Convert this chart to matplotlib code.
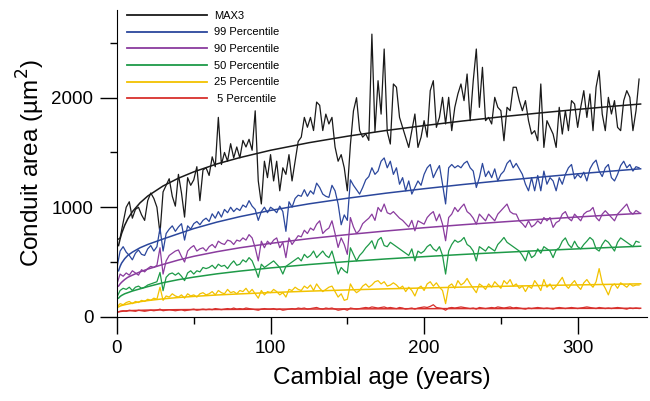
import numpy as np
import matplotlib
matplotlib.use("Agg")
import matplotlib.pyplot as plt

plt.rcParams['font.family'] = ['Liberation Sans', 'DejaVu Sans']

# ring series, one value every 2 years (years 0..340)
years = np.arange(0, 341, 2)

max3 = [700, 720, 860, 1000, 1050, 900, 980, 1000, 930, 880,
        1060, 1130, 1080, 1000, 760, 1140, 1200, 1260, 1100, 1010,
        1300, 1130, 910, 1270, 1200, 1250, 1370, 1060, 1340, 1360,
        1290, 1460, 1370, 1820, 1390, 1500, 1420, 1580, 1450, 1550,
        1450, 1610, 1550, 1620, 1520, 1880, 1240, 1030, 1420, 1270,
        1480, 1240, 1420, 1150, 1360, 1300, 1480, 1240, 1420, 1600,
        1640, 1820, 1730, 1820, 1700, 1960, 1930, 1700, 1850, 1760,
        1820, 1550, 1420, 1480, 1360, 1150, 1570, 1880, 2000, 1700,
        1640, 1670, 1610, 2580, 1690, 2155, 1850, 2444, 1690, 1577,
        2125, 2095, 1820, 1729, 1638, 1546, 1699, 1851, 1546, 1638,
        1790, 1640, 2064, 2155, 1729, 1820, 2003, 1760, 2003, 1699,
        1912, 2034, 2125, 1973, 2216, 1790, 2155, 2444, 1912, 2277,
        1790, 1820, 1760, 2003, 1912, 1881, 1607, 1912, 1881, 2095,
        2095, 1973, 1881, 1973, 1790, 1668, 1699, 1607, 2125, 1546,
        1790, 1729, 1668, 1546, 1912, 1668, 1881, 1699, 1973, 1942,
        1729, 1912, 2064, 1820, 2034, 1699, 2095, 2247, 1851, 1699,
        2003, 1851, 1973, 1729, 1699, 1973, 2064, 2003, 1699, 1881,
        2170]

p99 = [450, 600, 640, 590, 560, 520, 580, 610, 570, 560,
       620, 650, 600, 640, 810, 600, 760, 800, 830, 780,
       820, 850, 700, 830, 800, 850, 870, 840, 880, 900,
       870, 940, 900, 960, 910, 980, 950, 1000, 960, 990,
       970, 1020, 1000, 1060, 1010, 980, 880, 960, 1000, 950,
       1000, 980, 950, 1010, 960, 780, 1050, 1000, 1080, 1110,
       1100, 1160, 1100, 1150, 1120, 1220, 1180, 1120, 1100, 1090,
       1200, 1150, 1030, 840, 930, 880, 1250, 1200, 1160, 1120,
       1180, 1250, 1280, 1360, 1300, 1330, 1420, 1450, 1360, 1420,
       1300, 1360, 1210, 1270, 1150, 1240, 1120, 1180, 1240, 1200,
       1300, 1360, 1390, 1270, 1330, 1380, 1210, 1030, 1360, 1390,
       1360, 1380, 1360, 1400, 1420, 1360, 1330, 1180, 1270, 1400,
       1280, 1330, 1270, 1350, 1240, 1300, 1330, 1400, 1430, 1360,
       1400, 1350, 1300, 1210, 1150, 1270, 1150, 1290, 1150, 1330,
       1210, 1270, 1240, 1150, 1270, 1210, 1300, 1360, 1390, 1260,
       1300, 1270, 1320, 1240, 1350, 1400, 1430, 1330, 1280, 1360,
       1390, 1270, 1240, 1300, 1380, 1420, 1360, 1390, 1330, 1370,
       1360]

p90 = [300, 390, 370, 400, 380, 420, 400, 380, 430, 410,
       440, 460, 450, 470, 630, 390, 510, 560, 580, 600,
       610, 550, 500, 600, 630, 650, 600, 620, 630, 600,
       640, 660, 630, 690, 670, 660, 700, 690, 660, 700,
       690, 720, 700, 750, 720, 630, 510, 690, 630, 690,
       660, 700, 720, 630, 680, 540, 720, 660, 700, 740,
       730, 790, 760, 810, 790, 845, 876, 760, 790, 810,
       876, 760, 633, 720, 660, 570, 906, 820, 760, 790,
       850, 876, 900, 937, 880, 998, 960, 1029, 950, 937,
       960, 930, 900, 880, 850, 820, 880, 785, 876, 860,
       845, 906, 937, 960, 876, 937, 845, 694, 906, 937,
       998, 960, 998, 1029, 960, 937, 900, 845, 937, 906,
       876, 937, 906, 876, 937, 968, 998, 1029, 960, 940,
       937, 876, 850, 816, 876, 820, 840, 876, 850, 906,
       876, 906, 816, 860, 876, 937, 960, 900, 876, 937,
       906, 876, 937, 960, 968, 998, 906, 876, 937, 968,
       937, 906, 876, 937, 968, 998, 1029, 960, 937, 970,
       953]

p50 = [180, 240, 260, 250, 270, 240, 270, 280, 260, 270,
       290, 300, 310, 320, 405, 238, 360, 390, 400, 380,
       400, 370, 330, 400, 420, 390, 420, 410, 450, 440,
       450, 470, 440, 480, 460, 470, 440, 480, 510, 470,
       480, 520, 500, 540, 510, 440, 360, 480, 450, 470,
       490, 510, 480, 450, 390, 460, 480, 500, 520, 540,
       510, 570, 540, 560, 600, 540, 570, 600, 560, 540,
       600, 500, 390, 450, 420, 400, 630, 570, 510, 560,
       590, 630, 660, 694, 620, 700, 724, 650, 640, 680,
       660, 640, 620, 600, 580, 560, 620, 510, 600, 580,
       600, 640, 660, 620, 600, 640, 560, 390, 600, 660,
       700, 680, 694, 724, 660, 640, 600, 510, 640, 620,
       600, 640, 620, 600, 660, 690, 724, 680, 660, 640,
       620, 600, 560, 510, 600, 540, 560, 620, 580, 640,
       620, 600, 540, 610, 630, 690, 720, 660, 630, 690,
       640, 620, 660, 690, 724, 700, 620, 600, 660, 700,
       680, 640, 600, 680, 720, 700, 680, 660, 640, 690,
       680]

p25 = [90, 120, 110, 130, 140, 120, 140, 130, 150, 140,
       160, 150, 170, 160, 270, 150, 190, 180, 210, 190,
       180, 200, 170, 210, 190, 200, 180, 210, 220, 200,
       210, 230, 200, 240, 220, 210, 250, 220, 230, 210,
       240, 230, 260, 220, 250, 210, 170, 240, 200, 230,
       220, 250, 230, 200, 220, 180, 250, 240, 270, 250,
       240, 280, 260, 290, 240, 300, 260, 230, 250, 270,
       280, 230, 180, 210, 150, 160, 300, 250, 220, 240,
       280, 300, 270, 290, 320, 330, 300, 320, 280, 290,
       310, 290, 260, 280, 230, 270, 240, 190, 260, 280,
       240, 300, 320, 280, 310, 270, 240, 120, 280, 300,
       260, 330, 290, 310, 350, 300, 260, 220, 300, 280,
       250, 300, 270, 320, 290, 260, 330, 300, 340, 280,
       300, 260, 280, 230, 280, 260, 330, 290, 240, 340,
       270, 300, 250, 280, 320, 360, 290, 260, 300, 330,
       280, 250, 310, 340, 300, 270, 320, 440, 310, 260,
       200, 280, 300, 260, 310, 290, 270, 300, 280, 290,
       290]

p5 = [40, 50, 55, 50, 60, 55, 50, 60, 55, 50,
      55, 60, 55, 60, 70, 55, 60, 65, 60, 55,
      60, 65, 55, 60, 65, 70, 60, 65, 70, 65,
      70, 65, 75, 70, 65, 70, 75, 70, 80, 70,
      75, 70, 80, 75, 70, 65, 60, 70, 75, 70,
      70, 75, 65, 70, 60, 65, 70, 75, 70, 80,
      75, 80, 70, 75, 80, 85, 75, 70, 80, 75,
      80, 70, 60, 65, 70, 60, 80, 75, 70, 75,
      80, 85, 80, 90, 85, 80, 85, 90, 80, 85,
      80, 75, 85, 80, 70, 75, 80, 70, 80, 85,
      90, 85, 95, 110, 85, 80, 75, 60, 80, 85,
      80, 85, 90, 85, 80, 75, 80, 70, 85, 80,
      75, 80, 85, 80, 90, 85, 80, 85, 90, 80,
      85, 80, 75, 70, 80, 75, 80, 85, 80, 75,
      80, 75, 70, 80, 85, 80, 75, 80, 85, 80,
      75, 80, 85, 90, 85, 80, 75, 85, 80, 75,
      80, 75, 80, 85, 80, 75, 70, 80, 75, 80,
      75]

# fitted trend curves, read at a few ages
fit_years = [1, 2, 3, 5, 7, 10, 15, 20, 30, 40, 50, 65, 80, 100,
             125, 150, 175, 200, 225, 250, 275, 300, 325, 341]
fit_max3 = [650, 710, 760, 835, 893, 959, 1040, 1102, 1194, 1265, 1323, 1395,
            1453, 1520, 1589, 1648, 1700, 1745, 1787, 1825, 1860, 1893, 1924, 1942]
fit_p99 = [420, 460, 490, 530, 560, 590, 630, 660, 710, 758, 805, 864,
           914, 971, 1031, 1082, 1128, 1169, 1207, 1242, 1274, 1305, 1333, 1351]
fit_p90 = [280, 300, 315, 340, 360, 380, 410, 435, 478, 518, 552, 594,
           630, 670, 713, 750, 783, 813, 840, 865, 889, 911, 932, 944]
fit_p50 = [170, 185, 195, 210, 220, 235, 255, 275, 311, 339, 362, 392,
           417, 446, 477, 504, 528, 549, 569, 587, 604, 620, 635, 644]
fit_p25 = [90, 98, 103, 110, 116, 124, 138, 148, 164, 176, 186, 199,
           209, 221, 234, 245, 255, 263, 271, 278, 285, 291, 297, 301]
fit_p5 = [45, 48, 50, 53, 55, 57, 59, 61, 63, 65, 66, 67,
          68, 70, 71, 72, 73, 74, 75, 75, 76, 77, 77, 78]

labels = ['MAX3', '99 Percentile', '90 Percentile', '50 Percentile',
          '25 Percentile', ' 5 Percentile']
colors = ['#1a1a1a', '#2b479c', '#8a3c9e', '#1e9a48', '#f2c200', '#d8302c']
series = [max3, p99, p90, p50, p25, p5]
fits = [fit_max3, fit_p99, fit_p90, fit_p50, fit_p25, fit_p5]

fig = plt.figure(figsize=(6.5, 4.01), dpi=100)
ax = fig.add_axes([0.18, 0.21, 0.815, 0.765])

for s, f, c, lab in zip(series, fits, colors, labels):
    ax.plot(years, s, color=c, lw=0.9, label=lab)
    ax.plot(fit_years, f, color=c, lw=1.1)

ax.set_xlim(0, 345)
ax.set_ylim(0, 2800)
ax.set_xticks([0, 100, 200, 300])
ax.set_xticks([50, 150, 250], minor=True)
ax.set_yticks([0, 1000, 2000])
ax.set_yticks([500, 1500, 2500], minor=True)
for sp in ['top', 'right']:
    ax.spines[sp].set_visible(False)
ax.tick_params(which='major', direction='out', length=12, width=1,
               labelsize=13.5, pad=5)
ax.tick_params(which='minor', direction='out', length=5, width=1)

ax.set_xlabel('Cambial age (years)', fontsize=17.5, labelpad=7)
ax.set_ylabel('Conduit area (µm$^2$)', fontsize=17.5, labelpad=3)

leg = ax.legend(loc='upper left', bbox_to_anchor=(0.0, 1.03), frameon=False,
                fontsize=8, handlelength=7.2, handletextpad=0.6, labelspacing=0.6)
for h in leg.get_lines():
    h.set_linewidth(1.3)

fig.savefig('out.png', dpi=100)
